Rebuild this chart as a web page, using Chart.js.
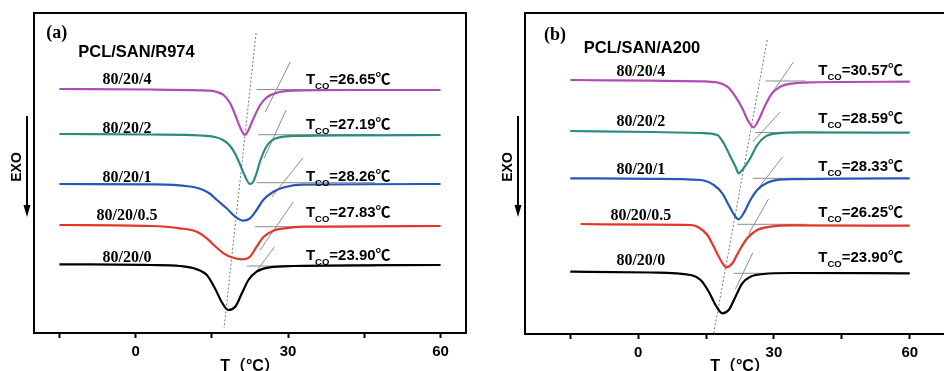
<!DOCTYPE html>
<html>
<head>
<meta charset="utf-8">
<script src="https://cdn.jsdelivr.net/npm/chart.js@4.4.0/dist/chart.umd.min.js"></script>
<style>
    body { margin: 0; width: 944px; height: 371px; overflow: hidden; background: #fff; position: relative; }
    .panel { position: absolute; top: 0; }
    #wa { left: 0; width: 470px; height: 380px; }
    #wb { left: 470px; width: 474px; height: 380px; overflow: hidden; }
</style>
</head>
<body>
<div id="wa" class="panel"><canvas id="ca" width="470" height="380"></canvas></div>
<div id="wb" class="panel"><canvas id="cb" width="490" height="380"></canvas></div>
<script>
// series shared by both panels
const seriesNames = ['80/20/4', '80/20/2', '80/20/1', '80/20/0.5', '80/20/0'];
const tcoA = ['26.65', '27.19', '28.26', '27.83', '23.90'];
const tcoB = ['30.57', '28.59', '28.33', '26.25', '23.90'];
const xTicks = [-15, 0, 15, 30, 45, 60];
const xLabels = [0, 30, 60];

// panel (a) PCL/SAN/R974 : temperature (°C) and heat flow (a.u., curves offset)
const aT4 = [-15, 2.8, 12.7, 14.6, 16.0, 17.3, 18.6, 19.6, 20.5, 21.5, 22.2, 23.2, 24.5, 25.8, 27.8, 31.0, 42.2, 60];
const aH4 = [24.4, 24.35, 24.27, 24.23, 24.1, 23.8, 22.97, 21.8, 20.63, 19.8, 20.3, 21.47, 22.8, 23.57, 24.03, 24.23, 24.3, 24.3];
const aT2 = [-15, 2.8, 12.7, 15.6, 17.2, 18.6, 19.6, 20.5, 21.5, 22.5, 23.1, 23.8, 24.5, 25.8, 27.5, 31.0, 42.2, 60];
const aH2 = [19.9, 19.85, 19.75, 19.6, 19.3, 18.7, 17.9, 16.9, 15.7, 14.9, 15.1, 16.0, 17.2, 18.7, 19.45, 19.7, 19.77, 19.8];
const aT1 = [-15, 2.8, 7.4, 10.7, 12.2, 13.3, 14.7, 16.0, 17.9, 19.6, 21.2, 22.5, 23.8, 25.1, 27.1, 29.7, 32.9, 60];
const aH1 = [14.9, 14.87, 14.82, 14.65, 14.5, 14.3, 13.9, 13.3, 12.47, 11.63, 11.23, 11.47, 12.3, 13.3, 14.13, 14.63, 14.83, 14.9];
const aT05 = [-15, 2.8, 8.7, 12.0, 14.0, 15.6, 17.3, 18.9, 20.9, 22.5, 23.8, 25.1, 27.1, 30.4, 33.7, 60];
const aH05 = [10.8, 10.7, 10.47, 10.13, 9.47, 8.7, 7.97, 7.57, 7.37, 7.63, 8.63, 9.57, 10.23, 10.53, 10.63, 10.7];
const aT0 = [-15, 2.8, 8.7, 11.4, 14.0, 15.6, 16.9, 18.2, 19.6, 20.9, 22.2, 23.8, 26.4, 31.0, 60];
const aH0 = [6.87, 6.8, 6.7, 6.47, 5.8, 4.47, 3.13, 2.3, 2.63, 3.97, 5.3, 6.13, 6.57, 6.7, 6.8];
// onset construction lines [T1, H1, T2, H2]
const aBase = [[23.8, 24.35, 46.7, 24.35], [24.1, 19.83, 47.1, 19.83], [23.8, 15.03, 47.1, 15.03], [23.5, 10.63, 47.1, 10.63], [21.9, 6.7, 47.1, 6.7]];
const aSlope = [[25.5, 22.1, 30.4, 27.1], [25.3, 17.5, 29.6, 22.3], [26.8, 13.6, 32.9, 17.5], [24.5, 8.3, 31.0, 13.1], [23.8, 6.2, 27.3, 8.6]];
const aPeakT = [23.7, 17.4];
const aPeakH = [30.0, 0.5];

// panel (b) PCL/SAN/A200
const bT4 = [-15, 2.8, 13.8, 17.5, 19.7, 21.5, 23.0, 24.4, 25.5, 26.6, 28.1, 29.6, 31.4, 34.4, 38.0, 60];
const bH4 = [25.4, 25.33, 25.27, 25.15, 24.73, 23.73, 22.57, 21.23, 20.67, 21.4, 22.9, 24.07, 24.73, 25.07, 25.17, 25.23];
const bT2 = [-15, 2.8, 13.8, 17.5, 18.9, 20.4, 21.5, 22.2, 23.0, 24.1, 24.8, 26.3, 28.1, 30.7, 35.8, 60];
const bH2 = [20.3, 20.2, 20.1, 19.9, 19.07, 17.73, 16.73, 16.07, 16.4, 17.1, 17.6, 18.9, 19.73, 20.07, 20.17, 20.13];
const bT1 = [-15, 2.8, 13.8, 16.7, 18.6, 20.0, 21.5, 22.2, 23.3, 24.8, 26.3, 28.5, 32.2, 60];
const bH1 = [15.57, 15.52, 15.4, 14.9, 14.07, 12.9, 11.73, 11.47, 12.07, 13.4, 14.4, 15.13, 15.47, 15.57];
const bT05 = [-12.7, 2.8, 11.6, 13.1, 15.3, 16.7, 18.2, 19.5, 20.8, 22.2, 24.1, 26.3, 29.2, 33.6, 60];
const bH05 = [11.0, 10.93, 10.9, 10.73, 9.9, 8.73, 7.4, 6.67, 7.07, 8.23, 9.57, 10.4, 10.73, 10.87, 10.83];
const bT0 = [-15, 2.8, 11.6, 13.8, 15.6, 17.1, 18.6, 20.0, 21.5, 23.0, 24.8, 27.7, 33.6, 60];
const bH0 = [6.23, 6.15, 5.9, 5.4, 4.23, 2.9, 2.07, 2.4, 3.73, 5.07, 5.73, 6.0, 6.1, 6.07];
const bBase = [[28.1, 25.3, 37.0, 25.3], [25.9, 20.15, 36.9, 20.15], [25.3, 15.57, 36.9, 15.57], [21.9, 10.97, 37.2, 10.97], [21.1, 6.07, 36.5, 6.07]];
const bSlope = [[28.8, 23.6, 34.3, 27.2], [25.3, 19.2, 31.4, 22.2], [25.9, 14.2, 31.9, 17.7], [24.4, 10.0, 28.8, 13.5], [21.5, 4.5, 25.3, 8.1]];
const bPeakT = [28.5, 16.7];
const bPeakH = [29.4, 0.1];

const colors = ['#b04db5', '#2a8c80', '#2a56b8', '#e5352b', '#000000'];
const SANS = '"Liberation Sans", Arial, "Noto Sans CJK SC", sans-serif';
const SERIF = '"Liberation Serif", "Times New Roman", serif';

const zip = (xs, ys) => xs.map((x, i) => ({ x: x, y: ys[i] }));

function drawTco(ctx, x, y, val) {
    ctx.textAlign = 'left';
    ctx.textBaseline = 'alphabetic';
    ctx.font = 'bold 15px ' + SANS;
    ctx.fillText('T', x, y);
    x += ctx.measureText('T').width;
    ctx.font = 'bold 9.5px ' + SANS;
    ctx.fillText('CO', x, y + 4.5);
    x += ctx.measureText('CO').width;
    ctx.font = 'bold 15px ' + SANS;
    ctx.fillText('=' + val + '℃', x, y);
}

// frame, texts and the EXO arrow
const decor = {
    id: 'decor',
    afterDatasetsDraw(chart, args, opts) {
        const ctx = chart.ctx;
        const area = chart.chartArea;
        const xs = chart.scales.x, ys = chart.scales.y;
        const px = v => xs.getPixelForValue(v), py = v => ys.getPixelForValue(v);
        ctx.save();
        ctx.strokeStyle = '#000';
        ctx.lineWidth = 2;
        ctx.beginPath();
        if (opts.openRight) {
            ctx.moveTo(chart.width, area.top);
            ctx.lineTo(area.left, area.top);
            ctx.lineTo(area.left, area.bottom);
            ctx.lineTo(chart.width, area.bottom);
        } else {
            ctx.rect(area.left, area.top, area.right - area.left, area.bottom - area.top);
        }
        ctx.stroke();

        ctx.fillStyle = '#000';
        ctx.textBaseline = 'alphabetic';
        ctx.textAlign = 'left';
        ctx.font = 'bold 18px ' + SERIF;
        ctx.fillText(opts.tag, px(opts.tagAt[0]), py(opts.tagAt[1]));
        ctx.font = 'bold 16.5px ' + SANS;
        ctx.fillText(opts.title, px(opts.titleAt[0]), py(opts.titleAt[1]));

        ctx.font = 'bold 16px ' + SERIF;
        ctx.textAlign = 'center';
        seriesNames.forEach((n, i) => ctx.fillText(n, px(opts.nameT), py(opts.nameH[i])));
        opts.tco.forEach((t, i) => drawTco(ctx, px(opts.tcoT), py(opts.tcoH[i]), t));

        // EXO with downward arrow, left of the frame
        const ax = area.left - 7;
        ctx.strokeStyle = '#000';
        ctx.lineWidth = 2;
        ctx.beginPath();
        ctx.moveTo(ax, 116);
        ctx.lineTo(ax, 208);
        ctx.stroke();
        ctx.beginPath();
        ctx.moveTo(ax - 3.5, 205);
        ctx.lineTo(ax + 3.5, 205);
        ctx.lineTo(ax, 217);
        ctx.closePath();
        ctx.fill();
        ctx.translate(area.left - 17, 167);
        ctx.rotate(-Math.PI / 2);
        ctx.font = 'bold 14px ' + SANS;
        ctx.textAlign = 'center';
        ctx.textBaseline = 'middle';
        ctx.fillText('EXO', 0, 0);
        ctx.restore();
    }
};

function buildPanel(id, p) {
    const datasets = [];
    p.curves.forEach((c, i) => datasets.push({
        data: zip(c[0], c[1]),
        borderColor: colors[i],
        borderWidth: 2.2,
        cubicInterpolationMode: 'monotone'
    }));
    p.base.concat(p.slope).forEach(s => datasets.push({
        data: [{ x: s[0], y: s[1] }, { x: s[2], y: s[3] }],
        borderColor: '#8c8c8c',
        borderWidth: 1
    }));
    datasets.push({
        data: zip(p.peakT, p.peakH),
        borderColor: '#777',
        borderWidth: 1,
        borderDash: [2, 2]
    });

    return new Chart(document.getElementById(id), {
        type: 'line',
        data: { datasets: datasets },
        options: {
            responsive: false,
            animation: false,
            events: [],
            devicePixelRatio: 1,
            elements: { point: { radius: 0 }, line: { tension: 0 } },
            layout: { padding: { left: p.padLeft, right: p.padRight, top: 13, bottom: 0 } },
            plugins: {
                legend: { display: false },
                tooltip: { enabled: false },
                decor: p.decor
            },
            scales: {
                x: {
                    type: 'linear',
                    min: p.xMin,
                    max: p.xMax,
                    afterBuildTicks: s => { s.ticks = xTicks.map(v => ({ value: v })); },
                    afterFit: s => { s.height = p.axisH; },
                    ticks: {
                        autoSkip: false,
                        maxRotation: 0,
                        padding: 5,
                        color: '#000',
                        font: { family: SANS, size: 15, weight: 'bold' },
                        callback: v => xLabels.includes(v) ? String(v) : ''
                    },
                    grid: { drawOnChartArea: false, drawTicks: true, tickLength: 5, tickWidth: 2, color: '#000' },
                    border: { display: false },
                    title: {
                        display: true,
                        text: 'T（°C）',
                        color: '#000',
                        font: { family: SANS, size: 16, weight: 'bold' },
                        padding: { top: 0, bottom: 4 }
                    }
                },
                y: { type: 'linear', min: 0, max: p.yMax, display: false }
            }
        },
        plugins: [decor]
    });
}

buildPanel('ca', {
    curves: [[aT4, aH4], [aT2, aH2], [aT1, aH1], [aT05, aH05], [aT0, aH0]],
    base: aBase, slope: aSlope, peakT: aPeakT, peakH: aPeakH,
    xMin: -20, xMax: 65, yMax: 32, padLeft: 34, padRight: 4, axisH: 47,
    decor: {
        tag: '(a)', tagAt: [-17.6, 29.5],
        title: 'PCL/SAN/R974', titleAt: [-11.3, 27.6],
        nameT: -1.7, nameH: [24.9, 20.0, 15.15, 11.3, 7.1],
        tco: tcoA, tcoT: 33.5, tcoH: [24.9, 20.4, 15.2, 11.6, 7.3]
    }
});

buildPanel('cb', {
    curves: [[bT4, bH4], [bT2, bH2], [bT1, bH1], [bT05, bH05], [bT0, bH0]],
    base: bBase, slope: bSlope, peakT: bPeakT, peakH: bPeakH,
    xMin: -25, xMax: 70, yMax: 32.1, padLeft: 55, padRight: 5, axisH: 46,
    decor: {
        openRight: true,
        tag: '(b)', tagAt: [-20.8, 29.4],
        title: 'PCL/SAN/A200', titleAt: [-12.0, 28.1],
        nameT: 0.6, nameH: [25.8, 20.8, 16.0, 11.4, 6.9],
        tco: tcoB, tcoT: 39.8, tcoH: [25.9, 21.1, 16.3, 11.7, 7.2]
    }
});
</script>
</body>
</html>
